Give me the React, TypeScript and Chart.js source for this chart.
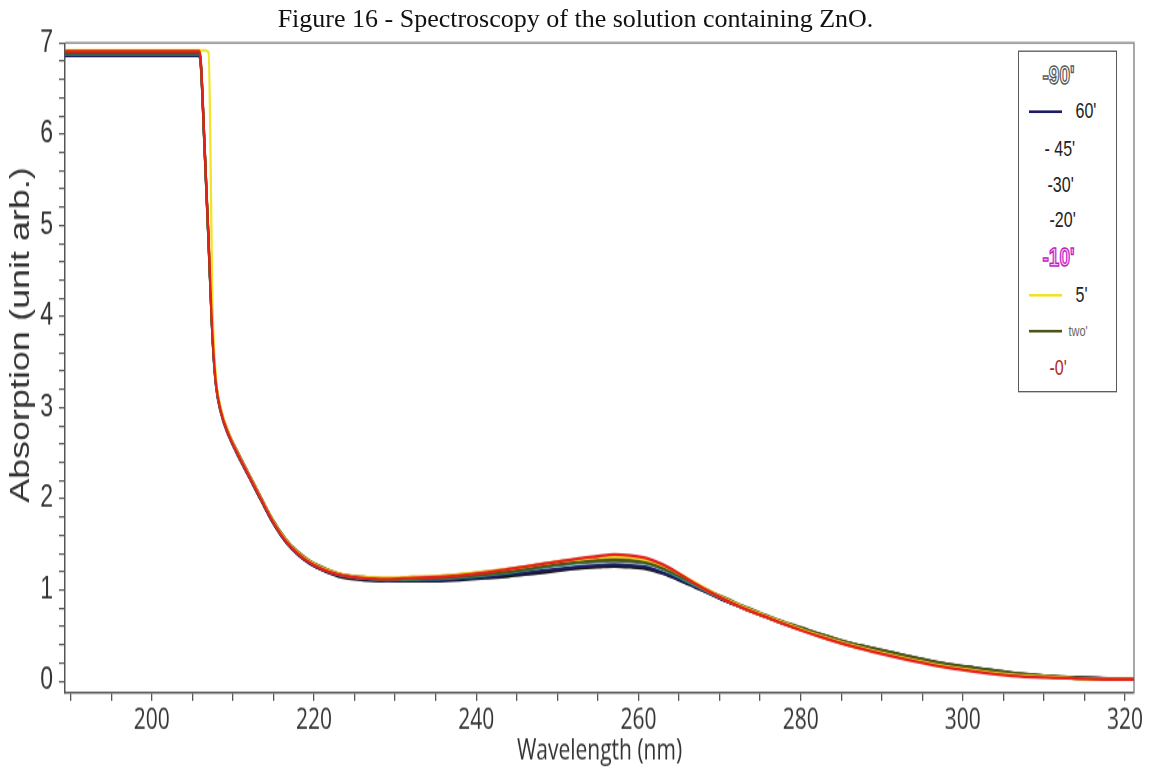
import React, { useEffect, useRef } from 'react';
import { Chart, registerables } from 'chart.js';

Chart.register(...registerables);

// vertical stretch of the original figure
const STRETCH = 1.33;
const W = 1151;
const H = 769;
const CH = Math.round(H / STRETCH);

const figureTitle = 'Figure 16 - Spectroscopy of the solution containing ZnO.';
const xTitle = 'Wavelength (nm)';
const yTitle = 'Absorption (unit arb.)';

const wavelengths = [
  189.3, 205.8, 206.0, 206.5, 207.0, 207.5, 207.9, 208.5, 209.5, 210.5,
  212, 213.5, 215, 216.5, 218, 219.5, 221, 223, 226, 229,
  232, 235, 238, 241, 244, 247, 250, 253, 255, 257,
  259, 261, 263, 265, 267, 269, 271, 273, 275, 277,
  280, 283, 286, 290, 294, 298, 302, 306, 310, 314,
  318, 321.1,
];

const abs90 = [
  6.86, 6.86, 6.80, 5.85, 4.80, 3.74, 3.25, 2.95, 2.69, 2.50,
  2.24, 1.98, 1.73, 1.53, 1.39, 1.29, 1.22, 1.15, 1.11, 1.10,
  1.10, 1.10, 1.11, 1.13, 1.15, 1.18, 1.21, 1.24, 1.25, 1.26,
  1.25, 1.23, 1.18, 1.11, 1.03, 0.95, 0.87, 0.80, 0.73, 0.67,
  0.58, 0.50, 0.42, 0.34, 0.26, 0.19, 0.14, 0.09, 0.06, 0.04,
  0.03, 0.02,
];
const abs60 = [
  6.86, 6.86, 6.81, 5.86, 4.81, 3.75, 3.26, 2.96, 2.69, 2.50,
  2.24, 1.98, 1.73, 1.53, 1.39, 1.29, 1.22, 1.16, 1.12, 1.10,
  1.11, 1.11, 1.12, 1.14, 1.17, 1.20, 1.23, 1.26, 1.27, 1.28,
  1.27, 1.25, 1.19, 1.12, 1.04, 0.95, 0.87, 0.80, 0.73, 0.66,
  0.57, 0.49, 0.41, 0.33, 0.25, 0.18, 0.13, 0.08, 0.05, 0.04,
  0.03, 0.02,
];
const abs45 = [
  6.88, 6.88, 6.82, 5.87, 4.82, 3.76, 3.27, 2.96, 2.70, 2.51,
  2.25, 1.99, 1.74, 1.54, 1.40, 1.30, 1.23, 1.16, 1.12, 1.11,
  1.11, 1.12, 1.13, 1.15, 1.18, 1.22, 1.25, 1.28, 1.29, 1.30,
  1.29, 1.27, 1.21, 1.13, 1.05, 0.96, 0.88, 0.80, 0.73, 0.66,
  0.57, 0.49, 0.41, 0.32, 0.25, 0.18, 0.12, 0.08, 0.05, 0.04,
  0.03, 0.02,
];
const abs30 = [
  6.88, 6.88, 6.83, 5.88, 4.83, 3.77, 3.27, 2.97, 2.70, 2.51,
  2.25, 1.99, 1.75, 1.55, 1.41, 1.31, 1.24, 1.17, 1.13, 1.11,
  1.12, 1.12, 1.14, 1.16, 1.19, 1.23, 1.27, 1.30, 1.31, 1.32,
  1.31, 1.29, 1.23, 1.14, 1.05, 0.96, 0.88, 0.80, 0.73, 0.66,
  0.57, 0.48, 0.40, 0.32, 0.24, 0.17, 0.12, 0.08, 0.05, 0.03,
  0.02, 0.02,
];
const abs20 = [
  6.89, 6.89, 6.83, 5.88, 4.83, 3.77, 3.28, 2.97, 2.71, 2.52,
  2.26, 2.00, 1.75, 1.55, 1.41, 1.31, 1.24, 1.17, 1.13, 1.12,
  1.12, 1.13, 1.15, 1.17, 1.21, 1.25, 1.29, 1.32, 1.33, 1.34,
  1.33, 1.31, 1.25, 1.16, 1.06, 0.97, 0.88, 0.80, 0.73, 0.66,
  0.57, 0.48, 0.40, 0.32, 0.24, 0.17, 0.12, 0.08, 0.05, 0.03,
  0.02, 0.02,
];
const abs10 = [
  6.90, 6.90, 6.84, 5.89, 4.84, 3.78, 3.28, 2.97, 2.71, 2.52,
  2.26, 2.00, 1.75, 1.55, 1.41, 1.31, 1.24, 1.18, 1.14, 1.13,
  1.14, 1.15, 1.17, 1.20, 1.23, 1.27, 1.31, 1.34, 1.35, 1.36,
  1.35, 1.33, 1.27, 1.17, 1.07, 0.97, 0.88, 0.80, 0.73, 0.66,
  0.56, 0.47, 0.39, 0.31, 0.23, 0.16, 0.11, 0.07, 0.05, 0.03,
  0.02, 0.02,
];
const abs5 = [
  6.92, 6.92, 6.92, 6.92, 6.90, 4.10, 3.35, 3.00, 2.72, 2.52,
  2.26, 2.00, 1.75, 1.55, 1.41, 1.31, 1.24, 1.18, 1.14, 1.13,
  1.14, 1.15, 1.17, 1.20, 1.23, 1.27, 1.31, 1.34, 1.36, 1.37,
  1.36, 1.33, 1.27, 1.18, 1.08, 0.98, 0.89, 0.81, 0.74, 0.67,
  0.57, 0.48, 0.40, 0.31, 0.23, 0.16, 0.11, 0.07, 0.05, 0.03,
  0.02, 0.02,
];
const abs2 = [
  6.89, 6.89, 6.83, 5.88, 4.83, 3.77, 3.28, 2.98, 2.72, 2.53,
  2.27, 2.01, 1.76, 1.56, 1.42, 1.32, 1.25, 1.18, 1.14, 1.12,
  1.13, 1.13, 1.15, 1.17, 1.20, 1.24, 1.28, 1.31, 1.32, 1.33,
  1.32, 1.30, 1.24, 1.16, 1.07, 0.98, 0.90, 0.82, 0.75, 0.68,
  0.59, 0.50, 0.42, 0.34, 0.26, 0.19, 0.14, 0.09, 0.06, 0.04,
  0.03, 0.02,
];
const abs0 = [
  6.91, 6.91, 6.85, 5.90, 4.85, 3.78, 3.28, 2.97, 2.70, 2.51,
  2.25, 1.99, 1.74, 1.54, 1.40, 1.30, 1.23, 1.17, 1.13, 1.12,
  1.13, 1.14, 1.16, 1.19, 1.23, 1.27, 1.31, 1.35, 1.37, 1.39,
  1.38, 1.35, 1.28, 1.18, 1.07, 0.97, 0.88, 0.80, 0.73, 0.66,
  0.56, 0.47, 0.39, 0.30, 0.22, 0.15, 0.10, 0.06, 0.04, 0.03,
  0.02, 0.02,
];

const seriesLabels = ["90'", "60'", "45'", "30'", "20'", "10'", "5'", "two'", "0'"];
const seriesValues = [abs90, abs60, abs45, abs30, abs20, abs10, abs5, abs2, abs0];
const seriesColors = ['#141414', '#1d1d66', '#efefef', '#2f8f8c', '#3d9c52', '#d27a22', '#f3e328', '#4d5516', '#e2211b'];
const seriesOrder = [7, 6, 8, 5, 4, 3, 1, 2, 0];

const xMajorTicks = [200, 220, 240, 260, 280, 300, 320];
const xMinorStep = 5;
const xTickFirst = 190;
const xTickLast = 320;
const yMajorTicks = [0, 1, 2, 3, 4, 5, 6, 7];
const yMinorStep = 0.2;

const xMin = 189.3;
const xMax = 321.1;
const yMin = -0.13;
const yMax = 7.0;

type LegendRow = { text: string; kind: 'hollow' | 'line' | 'text'; color?: string; textColor?: string; left: number; size: number; stroke?: string; fill?: string };
const legendRows: LegendRow[] = [
  { text: "-90'", kind: 'hollow', left: 1043, size: 19, stroke: '#5a5a5a', fill: '#ffffff' },
  { text: "60'", kind: 'line', color: '#1d1d66', textColor: '#222', left: 1076, size: 16 },
  { text: "- 45'", kind: 'text', textColor: '#222', left: 1045, size: 16 },
  { text: "-30'", kind: 'text', textColor: '#222', left: 1048, size: 16 },
  { text: "-20'", kind: 'text', textColor: '#222', left: 1050, size: 16 },
  { text: "-10'", kind: 'hollow', left: 1043, size: 19, stroke: '#c21fc2', fill: '#f6c6f6' },
  { text: "5'", kind: 'line', color: '#f3e328', textColor: '#222', left: 1076, size: 16 },
  { text: "two'", kind: 'line', color: '#4d5516', textColor: '#666', left: 1069, size: 11 },
  { text: "-0'", kind: 'text', textColor: '#b3261e', left: 1050, size: 16 },
];
const legendRowCenters = [74, 110, 147, 184, 220, 257, 294, 330, 367];
const legendBox = { left: 1018, top: 50, right: 1117, bottom: 393 };

function buildTicks(first: number, last: number, step: number, lo: number, hi: number) {
  const out: { value: number }[] = [];
  const n = Math.round((last - first) / step);
  for (let i = 0; i <= n; i++) {
    const v = Number((first + i * step).toFixed(4));
    if (v >= lo && v <= hi) out.push({ value: v });
  }
  return out;
}

const isMajor = (v: number, majors: number[]) => majors.some((m) => Math.abs(m - v) < 1e-6);

const framePlugin = {
  id: 'frameAndYTitle',
  beforeDatasetsDraw(chart: any) {
    const { ctx, chartArea: a } = chart;
    ctx.save();
    ctx.strokeStyle = '#8c8c8c';
    ctx.lineWidth = 1.5;
    ctx.beginPath();
    ctx.moveTo(a.left, a.top);
    ctx.lineTo(a.right, a.top);
    ctx.lineTo(a.right, a.bottom);
    ctx.stroke();
    ctx.restore();
  },
  afterDraw(chart: any) {
    const { ctx } = chart;
    ctx.save();
    ctx.translate(22, 335 / STRETCH);
    ctx.rotate(-Math.PI / 2);
    ctx.font = '27px "Liberation Sans", Arial, sans-serif';
    ctx.fillStyle = '#333';
    ctx.textAlign = 'center';
    ctx.textBaseline = 'middle';
    ctx.fillText(yTitle, 0, 0);
    ctx.restore();
  },
};

export default function App() {
  const canvasRef = useRef<HTMLCanvasElement | null>(null);

  useEffect(() => {
    if (!canvasRef.current) return;
    const datasets = seriesLabels.map((label, s) => ({
      label,
      data: wavelengths.map((x, i) => ({ x, y: seriesValues[s][i] })),
      borderColor: seriesColors[s],
      backgroundColor: seriesColors[s],
      borderWidth: 2.3,
      pointRadius: 0,
      fill: false,
      cubicInterpolationMode: 'monotone' as const,
      order: seriesOrder[s],
    }));

    const chart = new Chart(canvasRef.current, {
      type: 'line',
      data: { datasets },
      plugins: [framePlugin],
      options: {
        animation: false,
        responsive: false,
        maintainAspectRatio: false,
        devicePixelRatio: 1,
        layout: { padding: { top: 43 / STRETCH, right: 17, left: 0, bottom: 0 } },
        plugins: { legend: { display: false }, tooltip: { enabled: false }, title: { display: false } },
        scales: {
          x: {
            type: 'linear',
            min: xMin,
            max: xMax,
            afterBuildTicks: (scale: any) => {
              scale.ticks = buildTicks(xTickFirst, xTickLast, xMinorStep, xMin, xMax);
            },
            afterFit: (scale: any) => {
              scale.height = CH - 693 / STRETCH;
            },
            border: { display: true, color: '#555', width: 1.5 },
            grid: {
              display: true,
              drawOnChartArea: false,
              drawTicks: true,
              tickLength: 6,
              color: '#555',
              lineWidth: 1.3,
            },
            ticks: {
              autoSkip: false,
              maxRotation: 0,
              padding: 2,
              color: '#333',
              font: { family: '"Open Sans", sans-serif', size: 21 },
              callback: (v: any) => (isMajor(Number(v), xMajorTicks) ? String(Math.round(Number(v))) : ''),
            },
            title: {
              display: true,
              text: xTitle,
              color: '#333',
              font: { family: '"Open Sans", sans-serif', size: 21 },
              padding: { top: 0, bottom: 0 },
            },
          },
          y: {
            type: 'linear',
            min: yMin,
            max: yMax,
            afterBuildTicks: (scale: any) => {
              scale.ticks = buildTicks(0, 7, yMinorStep, yMin, yMax);
            },
            afterFit: (scale: any) => {
              scale.width = 65;
            },
            border: { display: true, color: '#555', width: 1.5 },
            grid: {
              display: true,
              drawOnChartArea: false,
              drawTicks: true,
              tickLength: 6,
              color: '#555',
              lineWidth: 1.2,
            },
            ticks: {
              autoSkip: false,
              padding: 6,
              color: '#333',
              font: { family: '"Liberation Sans", Arial, sans-serif', size: 23 },
              callback: (v: any) => (isMajor(Number(v), yMajorTicks) ? String(Math.round(Number(v))) : ''),
            },
          },
        },
      },
    });
    return () => chart.destroy();
  }, []);

  const boxTop = legendBox.top / STRETCH;
  const boxH = (legendBox.bottom - legendBox.top) / STRETCH;

  return (
    <div style={{ position: 'fixed', left: 0, top: 0, width: W, height: H, background: '#fff', overflow: 'hidden' }}>
      <div style={{ position: 'absolute', left: 0, top: 0, width: W, height: CH, transform: `scaleY(${STRETCH})`, transformOrigin: '0 0' }}>
        <canvas ref={canvasRef} width={W} height={CH} style={{ display: 'block' }} />
        <div
          style={{
            position: 'absolute',
            left: legendBox.left,
            top: boxTop,
            width: legendBox.right - legendBox.left,
            height: boxH,
            border: '1.5px solid #5a5a5a',
            boxSizing: 'border-box',
            background: '#fff',
          }}
        >
          {legendRows.map((r, i) => {
            const cy = legendRowCenters[i] / STRETCH - boxTop;
            return (
              <div key={i} style={{ position: 'absolute', left: 0, top: cy - 10, width: '100%', height: 20 }}>
                {r.kind === 'line' && (
                  <div style={{ position: 'absolute', left: 1029 - legendBox.left - 1.5, top: 9, width: 33, height: 2, background: r.color }} />
                )}
                <span
                  style={{
                    position: 'absolute',
                    left: r.left - legendBox.left - 1.5,
                    top: 0,
                    height: 20,
                    lineHeight: '20px',
                    whiteSpace: 'nowrap',
                    fontFamily: '"Liberation Sans", Arial, sans-serif',
                    fontSize: r.size,
                    fontWeight: r.kind === 'hollow' ? 'bold' : 'normal',
                    color: r.kind === 'hollow' ? r.fill : r.textColor,
                    WebkitTextStroke: r.kind === 'hollow' ? `1.1px ${r.stroke}` : undefined,
                  }}
                >
                  {r.text}
                </span>
              </div>
            );
          })}
        </div>
      </div>
      <div
        style={{
          position: 'absolute',
          left: 0,
          top: 4,
          width: W,
          textAlign: 'center',
          fontFamily: '"Liberation Serif", "Times New Roman", serif',
          fontSize: 26,
          lineHeight: '30px',
          color: '#111',
          whiteSpace: 'nowrap',
        }}
      >
        {figureTitle}
      </div>
    </div>
  );
}
